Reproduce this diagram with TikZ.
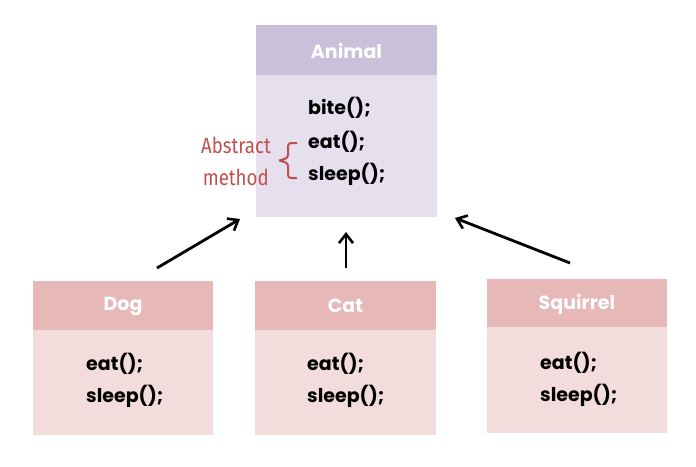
\documentclass[tikz,border=0pt]{standalone}
\usepackage{fontspec}
\setmainfont{Poppins}
\newfontfamily\redfont[FakeStretch=0.85]{Fira Sans}
\usetikzlibrary{arrows.meta}
\definecolor{purplehead}{HTML}{CBC0DA}
\definecolor{purplebody}{HTML}{E6E0EE}
\definecolor{pinkhead}{HTML}{E6B8B8}
\definecolor{pinkbody}{HTML}{F2DCDC}
\definecolor{absred}{HTML}{C0504D}
\begin{document}
\begin{tikzpicture}[x=1pt,y=-1pt,
  headtxt/.style={text=white,font=\fontsize{19}{22}\selectfont\bfseries},
  meth/.style={anchor=west,font=\fontsize{19}{22}\selectfont\bfseries,text=black,inner sep=0pt},
  redtxt/.style={text=absred,font=\redfont\fontsize{22}{24}\selectfont,anchor=east,inner sep=0pt},
  arr/.style={-{Straight Barb[length=9pt,width=14pt,line width=2.6pt]},line width=2.8pt,black}]
\useasboundingbox (0,0) rectangle (696,466);
% Animal
\fill[purplebody] (256,75) rectangle (437,217);
\fill[purplehead] (256,25) rectangle (437,75);
\node[headtxt] (animal) at (346.5,51) {Animal};
\node[meth] (bite) at (308,108) {bite();};
\node[meth] (eatA) at (308,142) {eat();};
\node[meth] (sleepA) at (308,174) {sleep();};
\coordinate (anbot) at (346,232);
% Abstract method
\node[redtxt] (abs) at (271,145) {Abstract};
\node[redtxt] (mth) at (269,177) {method};
\coordinate (brtop) at (297,143);
\coordinate (brmid) at (279,160.5);
\coordinate (brbot) at (297,178);
\draw[absred,line width=2pt,rounded corners=3pt]
  (brtop) -- (288,143) -- (288,158) -- (brmid)
  (brmid) -- (288,163) -- (288,178) -- (brbot);
% Dog
\fill[pinkbody] (33,330) rectangle (213,435);
\fill[pinkhead] (33,281) rectangle (213,330);
\node[headtxt] (dog) at (123,306) {Dog};
\node[meth] (eatD) at (86,364) {eat();};
\node[meth] (sleepD) at (86,396) {sleep();};
% Cat
\fill[pinkbody] (255,330) rectangle (436,435);
\fill[pinkhead] (255,281) rectangle (436,330);
\node[headtxt] (cat) at (345.5,306) {Cat};
\node[meth] (eatC) at (307,364) {eat();};
\node[meth] (sleepC) at (307,396) {sleep();};
% Squirrel
\fill[pinkbody] (487,327) rectangle (667,433);
\fill[pinkhead] (487,279) rectangle (667,327);
\node[headtxt] (sq) at (577,304) {Squirrel};
\node[meth] (eatS) at (540,363) {eat();};
\node[meth] (sleepS) at (540,395) {sleep();};
% arrows
\coordinate (dogtop) at (157,268);
\coordinate (dogend) at (240,219);
\coordinate (cattop) at (346,268);
\coordinate (sqtop) at (570,263);
\coordinate (sqend) at (455,218);
\draw[arr] (dogtop) -- (dogend);
\draw[arr] (cattop) -- (anbot);
\draw[arr] (sqtop) -- (sqend);
\end{tikzpicture}
\end{document}
